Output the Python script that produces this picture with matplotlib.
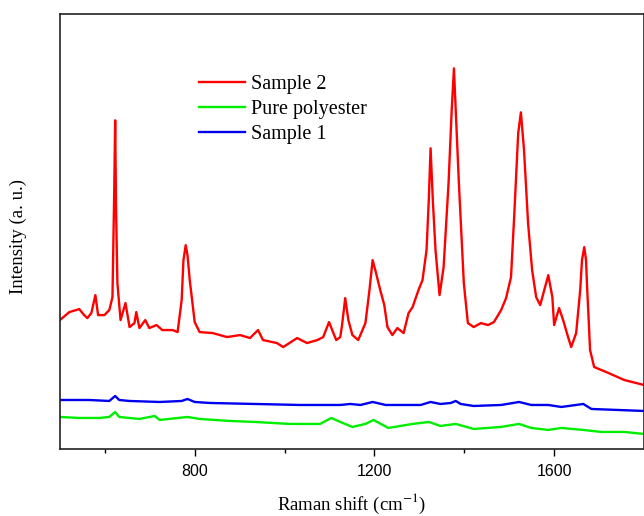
import matplotlib
matplotlib.use('Agg')
import matplotlib.pyplot as plt
from matplotlib.ticker import FixedLocator, NullLocator

plt.rcParams['font.family'] = 'Liberation Serif'
plt.rcParams['mathtext.fontset'] = 'stix'

# Raman spectra (wavenumber in cm-1, intensity in a.u.)
sample2_x = [500, 521, 543, 554, 561, 570, 579, 585, 599, 610, 617, 621, 623, 625, 628,
             635, 646, 655, 666, 670, 677, 690, 699, 715, 728, 751, 762, 771, 775, 780,
             784, 789, 800, 811, 840, 872, 901, 923, 941, 952, 983, 997, 1028, 1050,
             1073, 1086, 1099, 1115, 1124, 1128, 1135, 1142, 1151, 1164, 1180, 1189,
             1196, 1202, 1213, 1222, 1229, 1240, 1251, 1265, 1276, 1285, 1298, 1307,
             1316, 1321, 1325, 1330, 1336, 1345, 1354, 1365, 1372, 1377, 1381, 1388,
             1399, 1408, 1421, 1437, 1453, 1466, 1482, 1493, 1504, 1511, 1520, 1526,
             1533, 1542, 1551, 1560, 1569, 1578, 1587, 1596, 1600, 1611, 1620, 1631,
             1638, 1649, 1658, 1662, 1667, 1671, 1673, 1680, 1689, 1721, 1756, 1800]
sample2_y = [129, 137, 140, 134, 131, 136, 154, 134, 134, 139, 152, 260, 329, 240, 166,
             129, 146, 122, 126, 137, 121, 129, 121, 124, 119, 119, 117, 149, 189, 204,
             194, 169, 127, 117, 116, 112, 114, 111, 119, 109, 106, 102, 111, 106,
             109, 112, 127, 109, 112, 124, 151, 129, 114, 109, 126, 159,
             189, 179, 159, 144, 122, 114, 121, 116, 136, 142, 159, 169,
             199, 249, 301, 249, 199, 154, 182, 266, 339, 381, 339, 266,
             166, 126, 122, 126, 124, 127, 139, 151, 172, 232, 316, 337,
             299, 226, 179, 152, 144, 159, 174, 152, 124, 141, 129, 112,
             102, 116, 159, 189, 202, 189, 166, 99, 82, 76, 69, 64]

polyester_x = [500, 543, 588, 610, 623, 632, 677, 711, 722, 784, 811, 878, 934, 1012,
               1079, 1104, 1124, 1151, 1180, 1198, 1231, 1285, 1321, 1347, 1381, 1421,
               1482, 1522, 1549, 1587, 1616, 1665, 1705, 1756, 1800]
polyester_y = [32, 31, 31, 32, 37, 32, 30, 33, 29, 32, 30, 28, 27, 25,
               25, 31, 27, 22, 25, 29, 21, 25, 27, 23, 25, 20,
               22, 25, 21, 19, 21, 19, 17, 17, 15]

sample1_x = [500, 565, 610, 623, 632, 655, 722, 771, 784, 800, 834, 934, 1035, 1124,
             1146, 1169, 1196, 1225, 1303, 1325, 1347, 1370, 1381, 1392, 1421, 1482,
             1522, 1549, 1587, 1616, 1665, 1683, 1800]
sample1_y = [49, 49, 48, 53, 49, 48, 47, 48, 50, 47, 46, 45, 44, 44,
             45, 44, 47, 44, 44, 47, 45, 46, 48, 45, 43, 44,
             47, 44, 44, 42, 45, 40, 38]

fig = plt.figure(figsize=(6.44, 5.16), dpi=100)
ax = fig.add_axes([0.093, 0.13, 0.907, 0.842])

ax.plot(sample2_x, sample2_y, color='#ff0000', lw=1.7, label='Sample 2')
ax.plot(polyester_x, polyester_y, color='#00ee00', lw=1.7, label='Pure polyester')
ax.plot(sample1_x, sample1_y, color='#0000ee', lw=1.7, label='Sample 1')

ax.set_xlim(500, 1800)
ax.set_ylim(0, 435)

# x ticks: labelled every 400, unlabelled in between
ax.xaxis.set_major_locator(FixedLocator([800, 1200, 1600]))
ax.xaxis.set_minor_locator(FixedLocator([600, 1000, 1400]))
ax.tick_params(axis='x', which='major', direction='out', length=5, width=1,
               labelsize=11.5, pad=6)
ax.tick_params(axis='x', which='minor', direction='out', length=3, width=1)
for lbl in ax.get_xticklabels():
    lbl.set_fontfamily('Liberation Sans')
ax.yaxis.set_major_locator(NullLocator())
for sp in ax.spines.values():
    sp.set_linewidth(1.2)
    sp.set_color('#222222')

ax.set_xlabel('Raman shift (cm$^{-1}$)', fontsize=13.5, labelpad=9)
ax.set_ylabel('Intensity (a. u.)', fontsize=13.5)
ax.yaxis.set_label_coords(-0.057, 0.49)

ax.legend(loc='upper left', bbox_to_anchor=(0.238, 0.86), frameon=False,
          fontsize=14.5, handlelength=2.3, handletextpad=0.3, labelspacing=0.28,
          borderpad=0, borderaxespad=0)

fig.savefig('out.png', dpi=100)
